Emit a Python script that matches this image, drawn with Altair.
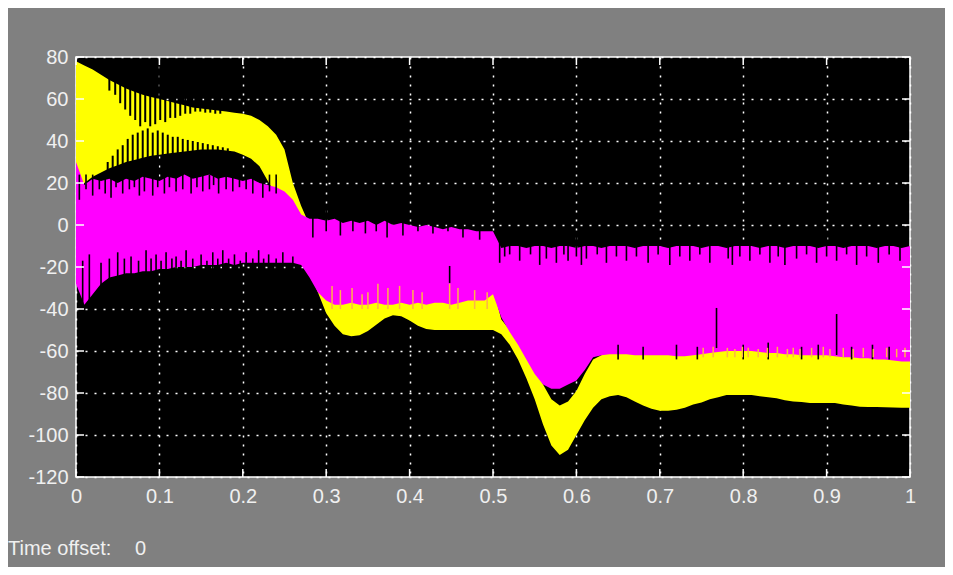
import altair as alt
import pandas as pd

# ---------------- data ----------------
T = [round(i * 0.01, 2) for i in range(101)]

# yellow signal envelope (upper / lower)
YELLOW_HI = [78, 76, 74, 71.5, 69, 67, 65, 63.5, 62, 61,
             60, 59, 58, 57, 56, 55.5, 55, 54.5, 54, 53.5,
             53, 52, 50, 47, 43, 36, 20, 9, 0, -10,
             -22, -30, -30, -30, -30, -30, -30, -30, -30, -30,
             -30, -30, -30, -30, -30, -30, -30, -30, -30, -30,
             -30, -45, -50, -56, -62, -68, -76, -83, -86, -84,
             -79, -71, -64, -62, -58, -58, -58, -58, -58, -58,
             -58, -58, -58, -58, -58, -58, -58, -58, -58, -58,
             -58, -58, -58, -58, -58, -58, -58, -58, -58, -58,
             -58, -58, -58, -58, -58, -58, -58, -58, -58, -58,
             -58]
YELLOW_LO = [15, 20, 23, 25, 27, 28.5, 30, 31, 32, 33,
             33.5, 34, 34.5, 35, 35.5, 36, 36, 36, 35.5, 35,
             33.5, 31.5, 28, 21, 14, 8, 0, -10, -22, -32,
             -42, -48, -52, -53, -52.5, -50.5, -47.5, -44.5, -43, -43.5,
             -45.5, -48, -49.5, -50, -50, -50, -50, -50, -50, -50,
             -50, -52, -57, -64, -73, -83, -95, -105, -109.5, -107,
             -100, -93, -87, -83, -81.5, -81, -82, -84, -86, -87.5,
             -88.5, -88.5, -88, -87, -85.5, -84.5, -83, -82, -81, -81,
             -81, -81, -81.5, -82, -82.5, -83.5, -84, -84.3, -84.8, -84.8,
             -84.8, -84.8, -85.5, -86, -86.5, -86.7, -86.7, -86.8, -86.9, -87,
             -87]

# magenta signal envelope (upper / lower)
MAGENTA_HI = [30, 19, 22, 21, 22, 20, 22, 21, 23, 22,
              21, 23, 22, 24, 22, 23, 24, 22, 23, 22,
              21, 22, 20, 19, 18, 16, 12, 5, 3, 3,
              2, 3, 1, 2, 1, 2, 0, 2, 0, 1,
              0, -1, 0, -1, -2, -1, -2, -2, -3, -3,
              -3, -11, -10, -10, -11, -10, -10, -11, -10, -10,
              -11, -10, -10, -11, -10, -10, -10, -11, -10, -10,
              -10, -11, -10, -10, -10, -11, -10, -10, -11, -10,
              -10, -10, -11, -10, -10, -11, -10, -10, -10, -11,
              -10, -10, -11, -10, -10, -10, -11, -10, -10, -11,
              -10]
MAGENTA_LO = [-28, -38, -33, -28, -25, -24, -23, -23, -22, -22,
              -21, -21, -20, -20, -20, -19, -19, -19, -18, -19,
              -18, -18, -18, -18, -18, -18, -18, -19, -25, -32,
              -36, -38, -38, -37, -38, -38, -37, -38, -38, -37,
              -38, -37, -38, -37, -37, -38, -37, -36, -36, -36,
              -33, -44, -51, -57, -64, -71, -76, -78, -78, -76,
              -74, -69, -63, -62, -61.5, -61.5, -61.5, -62, -62, -62,
              -62, -62, -62.5, -62.5, -62, -61.5, -61, -60.5, -60, -60,
              -60, -60, -60.5, -61, -61, -61.5, -61.5, -62, -62, -62,
              -62, -62.5, -63, -63, -63.5, -63.5, -64, -64, -64.5, -65,
              -65]

# dark stripes inside the yellow band (from the top edge / from the bottom edge)
STRIPE_TOP_T = [0.040, 0.047, 0.053, 0.059, 0.065, 0.071, 0.077, 0.083, 0.089, 0.095,
                0.101, 0.107, 0.113, 0.119, 0.125, 0.131, 0.137, 0.143, 0.149, 0.155,
                0.161, 0.167, 0.173]
STRIPE_TOP_END = [64, 62, 58, 55, 52, 50, 47, 49, 47, 48,
                  50, 49, 51, 51, 52, 53, 53, 54, 54, 53.5,
                  53.5, 53, 53]
STRIPE_BOT_T = [0.038, 0.044, 0.050, 0.056, 0.062, 0.068, 0.074, 0.080, 0.086, 0.092,
                0.098, 0.104, 0.110, 0.116, 0.122, 0.128, 0.134, 0.140, 0.146, 0.152,
                0.158, 0.164, 0.170, 0.176, 0.182]
STRIPE_BOT_END = [30, 33, 36, 38, 41, 43, 44, 45, 46, 44,
                  45, 44, 43, 42, 42, 41, 40.5, 40, 39.5, 39,
                  38.5, 38, 37.5, 37, 36.5]

# dark notches cutting into the magenta band
NOTCH_T = [
    # upper edge, 0 - 0.25
    0.004, 0.012, 0.020, 0.028, 0.035, 0.042, 0.048, 0.056, 0.064, 0.070,
    0.076, 0.082, 0.092, 0.098, 0.106, 0.112, 0.120, 0.128, 0.138, 0.145,
    0.152, 0.160, 0.165, 0.171, 0.180, 0.188, 0.196, 0.204, 0.212, 0.224,
    0.232, 0.240,
    # lower edge, 0 - 0.26
    0.008, 0.016, 0.030, 0.040, 0.050, 0.058, 0.066, 0.075, 0.084, 0.090,
    0.096, 0.102, 0.108, 0.115, 0.120, 0.126, 0.132, 0.140, 0.150, 0.157,
    0.164, 0.170, 0.176, 0.183, 0.190, 0.197, 0.204, 0.212, 0.219, 0.225,
    0.231, 0.240, 0.248, 0.260,
    # upper edge, 0.28 - 0.5
    0.284, 0.300, 0.317, 0.332, 0.347, 0.360, 0.373, 0.392, 0.410, 0.428,
    0.446, 0.464, 0.484,
    # upper edge, 0.5 - 1
    0.508, 0.514, 0.520, 0.532, 0.545, 0.556, 0.564, 0.576, 0.585, 0.590,
    0.600, 0.606, 0.612, 0.625, 0.636, 0.648, 0.660, 0.672, 0.686, 0.698,
    0.712, 0.724, 0.736, 0.748, 0.760, 0.782, 0.787, 0.796, 0.808, 0.820,
    0.832, 0.842, 0.850, 0.864, 0.876, 0.888, 0.900, 0.912, 0.924, 0.936,
    0.948, 0.962, 0.975, 0.988,
    # lower edge, 0.62 - 1
    0.650, 0.680, 0.720, 0.745, 0.800, 0.830, 0.870, 0.890, 0.930, 0.955,
    0.975,
    # long isolated dips
    0.448, 0.768, 0.912]
NOTCH_FROM = [24] * 32 + [-40] * 34 + [8] * 13 + [-5] * 44 + [-64] * 11 + [-19.5, -39.5, -42.4]
NOTCH_TO = [
    12, 17, 14, 17, 15, 13, 18, 15, 17, 18,
    14, 16, 14, 18, 15, 18, 16, 17, 15, 18,
    16, 17, 19, 15, 17, 16, 18, 17, 15, 13,
    16, 15,
    -17, -14, -18, -16, -13, -16, -15, -17, -12, -16,
    -14, -17, -13, -16, -15, -17, -12, -16, -14, -17,
    -13, -16, -12, -16, -14, -17, -13, -16, -12, -16,
    -14, -16, -13, -15,
    -6, -3, -5, -3, -4, -3, -6, -5, -3, -4,
    -3, -6, -7,
    -18, -15, -14, -17, -14, -19, -16, -18, -14, -17,
    -15, -19, -16, -14, -18, -15, -17, -15, -18, -14,
    -19, -15, -17, -14, -18, -16, -19, -15, -17, -14,
    -18, -15, -19, -16, -14, -18, -15, -17, -14, -19,
    -15, -18, -14, -17,
    -57, -58, -57, -58, -57, -56, -58, -57, -58, -57,
    -58,
    -27.6, -58.6, -61.9]

# yellow spikes poking up into the magenta band
YSPIKE_T = [0.307, 0.317, 0.331, 0.343, 0.350, 0.362, 0.374, 0.388, 0.404, 0.415,
            0.448, 0.458, 0.478, 0.493,
            0.752, 0.764, 0.781, 0.790, 0.799, 0.806, 0.818, 0.829, 0.841, 0.853,
            0.860, 0.868, 0.882, 0.896, 0.904, 0.920, 0.932, 0.944, 0.956, 0.972,
            0.984, 0.994]
YSPIKE_FROM = [-40] * 14 + [-63] * 22
YSPIKE_TO = [-29, -31, -30, -33, -32, -28, -30, -29, -31, -32, -28, -30, -31, -32,
             -58.5, -58, -58.5, -59, -58, -58.5, -59, -58.5, -58, -59, -58.5,
             -59, -58.5, -58, -59, -58.5, -59, -58.5, -59, -58.5, -59, -58.5]

X_TICKS = [0, 0.1, 0.2, 0.3, 0.4, 0.5, 0.6, 0.7, 0.8, 0.9, 1]
Y_TICKS = [-120, -100, -80, -60, -40, -20, 0, 20, 40, 60, 80]

# ---------------- chart ----------------
XDOM = [0, 1]
YDOM = [-120, 80]
xs = alt.Scale(domain=XDOM, nice=False, zero=False)
ys = alt.Scale(domain=YDOM, nice=False, zero=False)

x_axis = alt.Axis(values=X_TICKS, labelExpr="'' + datum.value", labelFlush=False,
                  labelOverlap=False, labelPadding=9, title=None)
y_axis = alt.Axis(values=Y_TICKS, labelExpr="'' + datum.value", labelOverlap=False,
                  labelFlush=False, labelPadding=8, title=None)


def X(field):
    return alt.X(field, type="quantitative", scale=xs, axis=x_axis)


def Y(field):
    return alt.Y(field, type="quantitative", scale=ys, axis=y_axis)


bands = pd.DataFrame({"t": T * 2,
                      "hi": YELLOW_HI + MAGENTA_HI,
                      "lo": YELLOW_LO + MAGENTA_LO,
                      "sig": ["yellow"] * len(T) + ["magenta"] * len(T)})

yellow = alt.Chart(bands[bands.sig == "yellow"]).mark_area(
    color="#ffff00", interpolate="linear", clip=True
).encode(x=X("t"), y=Y("hi"), y2="lo:Q")

magenta = alt.Chart(bands[bands.sig == "magenta"]).mark_area(
    color="#ff00ff", interpolate="linear", clip=True
).encode(x=X("t"), y=Y("hi"), y2="lo:Q")

stripes = pd.DataFrame({
    "t": STRIPE_TOP_T + STRIPE_BOT_T,
    "a": [78] * len(STRIPE_TOP_T) + [20] * len(STRIPE_BOT_T),
    "b": STRIPE_TOP_END + STRIPE_BOT_END,
})
stripe_layer = alt.Chart(stripes).mark_rule(color="#000000", strokeWidth=2, clip=True).encode(
    x=X("t"), y=Y("a"), y2="b:Q")

notches = pd.DataFrame({"t": NOTCH_T, "a": NOTCH_FROM, "b": NOTCH_TO})
notch_layer = alt.Chart(notches).mark_rule(color="#000000", strokeWidth=1.6, clip=True).encode(
    x=X("t"), y=Y("a"), y2="b:Q")

yspikes = pd.DataFrame({"t": YSPIKE_T, "a": YSPIKE_FROM, "b": YSPIKE_TO})
yspike_layer = alt.Chart(yspikes).mark_rule(color="#ffb347", strokeWidth=1.5, clip=True).encode(
    x=X("t"), y=Y("a"), y2="b:Q")

# inward tick marks on all four sides (MATLAB scope style)
tick_len_y = 3.8      # in y units
tick_len_x = 0.0096   # in x units
tick_rows = []
for v in X_TICKS:
    tick_rows.append({"x": v, "x2": v, "y": YDOM[0], "y2": YDOM[0] + tick_len_y})
    tick_rows.append({"x": v, "x2": v, "y": YDOM[1], "y2": YDOM[1] - tick_len_y})
for v in Y_TICKS:
    tick_rows.append({"x": XDOM[0], "x2": XDOM[0] + tick_len_x, "y": v, "y2": v})
    tick_rows.append({"x": XDOM[1], "x2": XDOM[1] - tick_len_x, "y": v, "y2": v})
ticks = alt.Chart(pd.DataFrame(tick_rows)).mark_rule(color="#ffffff", strokeWidth=1.5).encode(
    x=X("x"), x2="x2:Q", y=Y("y"), y2="y2:Q")

label1 = alt.Chart(pd.DataFrame({"s": ["Time offset:"]})).mark_text(
    align="left", baseline="alphabetic", font="Liberation Sans", fontSize=20, color="#f0f0f0"
).encode(text="s:N", x=alt.value(-68), y=alt.value(498))
label2 = alt.Chart(pd.DataFrame({"s": ["0"]})).mark_text(
    align="left", baseline="alphabetic", font="Liberation Sans", fontSize=20, color="#f0f0f0"
).encode(text="s:N", x=alt.value(59), y=alt.value(498))

chart = alt.layer(
    yellow, stripe_layer, magenta, notch_layer, yspike_layer, ticks, label1, label2
).properties(
    width=834,
    height=420,
    autosize=alt.AutoSizeParams(type="none"),
    padding={"left": 68, "top": 49, "right": 35, "bottom": 90},
    background="#808080",
).configure_view(
    fill="#000000",
    stroke="#ffffff",
    strokeWidth=1.5,
).configure_axis(
    grid=True,
    gridColor="#ffffff",
    gridDash=[2, 7],
    gridWidth=1.5,
    gridOpacity=1,
    domain=False,
    ticks=False,
    tickSize=0,
    labelColor="#f0f0f0",
    labelFont="Liberation Sans",
    labelFontSize=20,
    zindex=1,
)

chart.save("out.html", embed_options={"renderer": "svg", "actions": False})
